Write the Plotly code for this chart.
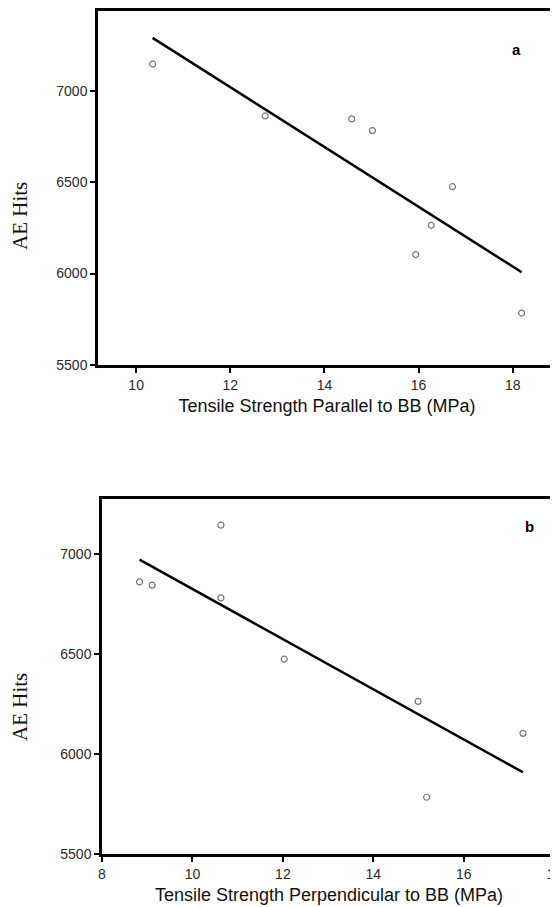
import numpy as np
import plotly.graph_objects as go

# Data
ae_hits = [7146, 6862, 6846, 6782, 6475, 6264, 6104, 5784]
ts_parallel = [10.35, 12.74, 14.58, 15.02, 16.72, 16.27, 15.94, 18.19]
ts_perpendicular = [10.63, 8.83, 9.11, 10.63, 12.03, 14.99, 17.31, 15.18]

x_ticks_a = [10, 12, 14, 16, 18]
x_ticks_b = [8, 10, 12, 14, 16, 18]
y_ticks = [5500, 6000, 6500, 7000]

# page body has an 8px margin; figure sized to fill the rest of the window
W, H = 550, 899
OFF = 8

def px_x(p):
    return (p - OFF) / W

def px_y(p):
    return 1 - (p - OFF) / H

def fit_line(x, y):
    x = np.asarray(x, float); y = np.asarray(y, float)
    m, c = np.polyfit(x, y, 1)
    xs = np.array([x.min(), x.max()])
    return xs, m * xs + c

fig = go.Figure()

marker = dict(symbol="circle-open", size=6, color="#757575", line=dict(width=1.2, color="#757575"))

fig.add_trace(go.Scatter(x=ts_parallel, y=ae_hits, mode="markers", marker=marker,
                         xaxis="x", yaxis="y", showlegend=False))
lx, ly = fit_line(ts_parallel, ae_hits)
fig.add_trace(go.Scatter(x=lx, y=ly, mode="lines", line=dict(color="black", width=2.5),
                         xaxis="x", yaxis="y", showlegend=False))

fig.add_trace(go.Scatter(x=ts_perpendicular, y=ae_hits, mode="markers", marker=marker,
                         xaxis="x2", yaxis="y2", showlegend=False))
lx2, ly2 = fit_line(ts_perpendicular, ae_hits)
fig.add_trace(go.Scatter(x=lx2, y=ly2, mode="lines", line=dict(color="black", width=2.5),
                         xaxis="x2", yaxis="y2", showlegend=False))

tickfont = dict(family="Liberation Sans, Arial, sans-serif", size=14, color="#2a2a2a")
xtitlefont = dict(family="Liberation Sans, Arial, sans-serif", size=18, color="#111111")
ytitlefont = dict(family="Liberation Serif, Times New Roman, serif", size=21, color="#111111")

def xaxis(domain, rng, ticks, title, anchor):
    return dict(domain=domain, range=rng, tickvals=ticks, ticktext=[str(t) for t in ticks],
                showline=True, linecolor="black", linewidth=2.5, mirror=True,
                ticks="outside", ticklen=5, tickwidth=2, tickcolor="black",
                ticklabeloverflow="allow",
                showgrid=False, zeroline=False, tickfont=tickfont, anchor=anchor,
                title=dict(text=title, font=xtitlefont, standoff=8), automargin=False)

def yaxis(domain, rng, anchor):
    return dict(domain=domain, range=rng, tickvals=y_ticks, ticktext=[str(t) for t in y_ticks],
                showline=True, linecolor="black", linewidth=2.5, mirror=True,
                ticks="outside", ticklen=5, tickwidth=2, tickcolor="black",
                showgrid=False, zeroline=False, tickfont=tickfont, anchor=anchor,
                automargin=False)

ylab = dict(text="AE Hits", textangle=-90, xref="paper", yref="paper", showarrow=False,
            font=ytitlefont, xanchor="center", yanchor="middle")

fig.update_layout(
    width=W, height=H,
    margin=dict(l=0, r=0, t=0, b=0),
    paper_bgcolor="white", plot_bgcolor="white",
    xaxis=xaxis([px_x(98), px_x(556)], [9.19, 18.92], x_ticks_a,
                "Tensile Strength Parallel to BB (MPa)", "y"),
    yaxis=yaxis([px_y(365), px_y(11)], [5500, 7436], "x"),
    xaxis2=xaxis([px_x(102), px_x(556)], [8, 18.04], x_ticks_b,
                 "Tensile Strength Perpendicular to BB (MPa)", "y2"),
    yaxis2=yaxis([px_y(854), px_y(499)], [5500, 7277], "x2"),
    annotations=[
        dict(ylab, x=px_x(20), y=px_y(216)),
        dict(ylab, x=px_x(20), y=px_y(707)),
        dict(text="<b>a</b>", x=18.09, y=7224, xref="x", yref="y", showarrow=False,
             font=dict(family="Liberation Sans, Arial, sans-serif", size=15, color="black")),
        dict(text="<b>b</b>", x=17.45, y=7137, xref="x2", yref="y2", showarrow=False,
             font=dict(family="Liberation Sans, Arial, sans-serif", size=15, color="black")),
    ],
)

fig.write_html("out.html")
